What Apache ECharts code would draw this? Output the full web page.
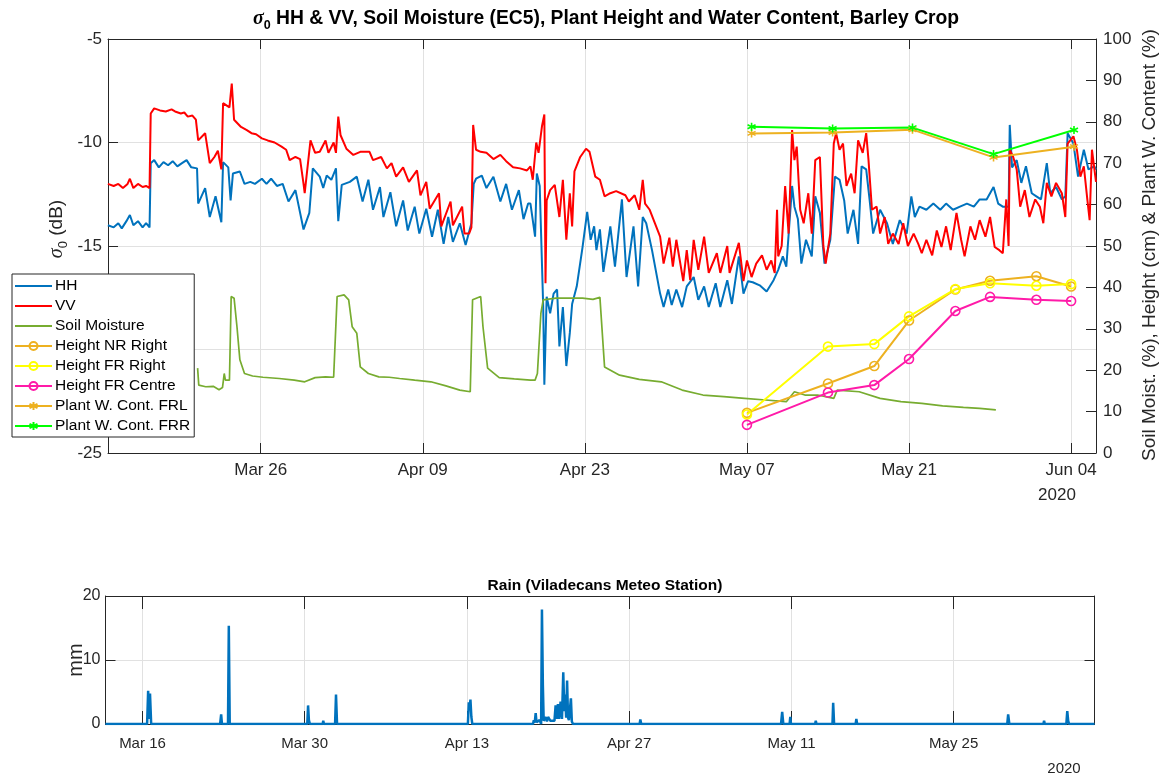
<!DOCTYPE html>
<html><head><meta charset="utf-8">
<script src="https://cdn.jsdelivr.net/npm/echarts@6/dist/echarts.min.js"></script>
<style>html,body{margin:0;padding:0;background:#fff}#c{width:1166px;height:779px}</style>
</head><body><div id="c"></div>
<script>
// x values are days since 13 Mar 2020 00:00
const X_MIN = -0.19, X_MAX = 85.15;
const topTickDays = [13, 27, 41, 55, 69, 83];
const topTickLabels = ['Mar 26', 'Apr 09', 'Apr 23', 'May 07', 'May 21', 'Jun 04'];
const rainTickDays = [3, 17, 31, 45, 59, 73];
const rainTickLabels = ['Mar 16', 'Mar 30', 'Apr 13', 'Apr 27', 'May 11', 'May 25'];
const yearLabel = '2020';

const HH = [
[-0.2,-14.0],[0.3,-14.1],[0.7,-13.9],[1.0,-14.15],[1.4,-13.8],[1.7,-13.5],[2.0,-14.0],[2.4,-13.8],[2.8,-14.1],[3.1,-13.9],[3.4,-14.1],
[3.5,-11.0],[3.8,-10.85],[4.2,-11.2],[4.6,-10.95],[5.0,-11.1],[5.4,-10.9],[5.8,-11.15],[6.2,-11.0],[6.6,-10.85],[7.0,-11.2],[7.5,-11.25],
[7.6,-12.95],[8.2,-12.2],[8.6,-13.6],[9.1,-12.6],[9.6,-13.85],[9.75,-10.95],[10.2,-11.2],[10.4,-12.8],[10.6,-11.5],[11.2,-11.4],[11.6,-12.0],
[12.1,-11.9],[12.5,-12.0],[13.1,-11.75],[13.5,-12.0],[13.9,-11.75],[14.4,-12.1],[14.9,-12.0],[15.4,-12.85],[16.0,-12.3],[16.7,-14.2],[17.2,-13.4],
[17.5,-11.25],[18.1,-11.65],[18.4,-12.2],[18.7,-11.6],[19.1,-11.8],[19.5,-11.25],[19.7,-13.8],[20.0,-12.05],[20.7,-11.9],[21.3,-11.65],[21.8,-12.85],
[22.3,-11.8],[22.7,-13.25],[23.3,-12.15],[23.6,-13.6],[24.2,-12.4],[24.7,-14.05],[25.3,-12.8],[25.7,-14.25],[26.3,-13.1],[26.7,-14.4],[27.3,-13.2],
[27.8,-14.55],[28.3,-13.25],[28.8,-14.9],[29.2,-13.6],[29.6,-14.8],[30.2,-13.9],[30.7,-14.95],[31.2,-13.9],[31.4,-12.0],[31.6,-11.75],[32.1,-11.6],
[32.5,-12.2],[33.1,-11.65],[33.7,-12.85],[34.2,-12.0],[34.7,-13.25],[35.3,-12.3],[35.7,-13.7],[36.1,-12.95],[36.3,-12.95],[36.7,-14.55],[36.85,-11.5],
[37.1,-12.1],[37.4,-17.9],[37.5,-21.7],[37.7,-17.45],[38.0,-18.25],[38.3,-17.3],[38.6,-17.1],[38.8,-19.85],[39.1,-17.95],[39.4,-20.8],[39.7,-19.2],
[39.9,-17.8],[40.3,-16.95],[40.8,-15.05],[41.2,-13.35],[41.5,-14.7],[41.8,-14.05],[42.0,-15.2],[42.3,-14.2],[42.6,-16.25],[43.2,-14.05],[43.6,-16.0],
[44.2,-12.75],[44.6,-16.5],[45.2,-14.05],[45.6,-16.95],[46.0,-13.6],[46.3,-13.9],[46.8,-15.2],[47.5,-17.3],[47.8,-17.95],[48.2,-17.1],[48.5,-17.85],
[48.9,-17.1],[49.4,-17.95],[49.8,-16.95],[50.4,-16.5],[50.8,-17.6],[51.3,-16.95],[51.7,-17.95],[52.3,-16.8],[52.7,-17.95],[53.3,-16.65],[53.7,-17.8],
[54.3,-15.5],[54.7,-17.3],[55.1,-16.7],[55.5,-16.75],[56.1,-16.9],[56.7,-17.2],[57.3,-16.65],[57.7,-16.15],[58.1,-15.5],[58.4,-16.0],[58.9,-12.1],
[59.1,-13.1],[59.4,-13.7],[59.7,-15.85],[60.1,-14.7],[60.6,-15.5],[60.9,-12.6],[61.3,-13.4],[61.7,-15.85],[62.2,-14.7],[62.6,-11.65],[63.0,-11.8],
[63.4,-12.8],[63.7,-14.4],[64.2,-13.25],[64.6,-14.9],[64.9,-11.15],[65.3,-11.3],[65.6,-12.8],[65.9,-14.4],[66.5,-13.25],[67.1,-13.9],[67.6,-14.9],
[68.2,-13.75],[68.8,-14.4],[69.2,-12.6],[69.5,-13.6],[69.9,-13.1],[70.5,-13.25],[71.1,-12.95],[71.7,-13.25],[72.2,-12.95],[72.8,-13.25],[73.4,-13.1],
[74.0,-12.95],[74.6,-13.1],[75.1,-12.75],[75.7,-12.75],[76.3,-12.15],[76.7,-12.95],[77.1,-13.1],[77.6,-13.1],[77.7,-9.15],[77.9,-11.2],[78.3,-10.85],
[78.7,-11.95],[79.1,-11.15],[79.6,-12.45],[80.0,-12.6],[80.4,-12.75],[80.9,-11.0],[81.2,-12.45],[81.7,-12.15],[82.2,-12.75],[82.5,-12.6],[82.7,-9.55],
[83.2,-10.05],[83.6,-11.65],[84.1,-10.35],[84.5,-11.3],[85.0,-11.15],[85.15,-11.3]
];

const VV = [
[-0.2,-12.0],[0.3,-12.1],[0.7,-12.0],[1.1,-12.2],[1.5,-12.0],[1.7,-11.75],[2.0,-12.2],[2.4,-12.0],[2.8,-12.15],[3.1,-12.1],[3.4,-12.2],
[3.5,-8.6],[3.8,-8.35],[4.3,-8.45],[4.8,-8.5],[5.3,-8.4],[5.6,-8.5],[6.1,-8.6],[6.4,-8.55],[6.7,-8.75],[7.1,-8.7],[7.4,-8.9],
[7.6,-9.9],[8.2,-9.55],[8.6,-11.0],[9.0,-10.7],[9.3,-10.4],[9.6,-11.3],[9.75,-8.1],[10.3,-8.3],[10.5,-7.15],[10.7,-8.9],[11.3,-9.25],[11.8,-9.4],
[12.2,-9.55],[12.6,-9.6],[13.1,-9.8],[13.6,-9.9],[14.2,-10.0],[14.8,-10.2],[15.2,-10.35],[15.5,-10.85],[16.0,-10.7],[16.4,-10.8],[16.7,-12.0],
[16.8,-12.45],[17.3,-9.9],[17.7,-10.5],[18.1,-10.45],[18.6,-9.9],[18.85,-10.5],[19.3,-10.0],[19.5,-10.5],[19.7,-8.75],[19.9,-9.65],[20.4,-10.3],
[21.0,-10.6],[21.6,-10.45],[22.4,-10.45],[22.7,-10.85],[23.4,-10.7],[23.9,-11.25],[24.3,-11.0],[24.7,-11.65],[25.3,-11.2],[25.8,-11.9],[26.5,-11.35],
[26.8,-12.55],[27.3,-11.9],[27.6,-13.2],[28.4,-12.45],[28.6,-14.05],[29.4,-12.85],[29.6,-14.0],[30.4,-13.1],[30.6,-14.4],[31.0,-14.4],[31.2,-14.1],
[31.35,-9.15],[31.6,-10.35],[32.0,-10.45],[32.5,-10.5],[33.1,-10.8],[33.7,-10.6],[34.2,-10.9],[34.8,-11.2],[35.4,-11.25],[36.0,-11.35],[36.3,-11.15],
[36.5,-11.8],[36.8,-10.0],[37.0,-10.5],[37.3,-9.2],[37.5,-8.65],[37.6,-16.8],[37.7,-12.8],[38.0,-12.3],[38.4,-12.05],[38.8,-13.6],[39.1,-11.8],
[39.4,-14.7],[39.7,-12.45],[39.9,-14.05],[40.1,-11.4],[40.6,-10.7],[41.1,-10.3],[41.4,-10.45],[41.9,-11.65],[42.3,-11.8],[42.7,-12.6],[43.2,-12.45],
[43.7,-12.35],[44.5,-12.55],[44.8,-12.85],[45.3,-12.55],[45.7,-13.25],[46.0,-11.8],[46.2,-12.95],[46.6,-13.25],[47.5,-14.55],[47.8,-15.85],[48.3,-14.6],
[48.6,-16.0],[48.9,-14.7],[49.5,-16.7],[49.8,-15.2],[50.1,-16.65],[50.4,-14.7],[50.8,-16.15],[51.3,-14.55],[51.7,-16.3],[52.4,-15.35],[52.7,-16.3],
[53.3,-15.0],[53.5,-16.3],[54.3,-14.85],[54.7,-16.7],[55.0,-15.7],[55.4,-16.5],[55.8,-15.85],[56.3,-15.45],[56.7,-16.15],[57.1,-15.7],[57.4,-16.3],
[57.6,-13.25],[57.7,-15.5],[58.0,-15.0],[58.3,-12.1],[58.6,-14.4],[58.9,-9.4],[59.1,-10.85],[59.3,-10.2],[59.6,-13.25],[59.9,-13.9],[60.3,-12.45],
[60.6,-14.4],[60.9,-10.85],[61.3,-10.7],[61.6,-15.0],[61.8,-15.85],[62.2,-14.4],[62.5,-10.05],[62.7,-9.55],[63.0,-10.35],[63.3,-10.05],[63.6,-12.1],
[64.0,-11.5],[64.3,-12.45],[64.6,-9.9],[65.0,-10.5],[65.3,-9.55],[65.5,-10.85],[65.8,-13.25],[66.2,-13.1],[66.5,-14.4],[66.9,-13.6],[67.2,-14.9],
[67.6,-14.4],[68.1,-14.9],[68.5,-13.9],[68.9,-15.0],[69.4,-14.4],[69.8,-14.9],[70.1,-15.35],[70.5,-14.7],[71.0,-15.45],[71.4,-14.25],[71.8,-15.05],
[72.2,-14.05],[72.6,-15.2],[73.1,-13.4],[73.5,-14.7],[73.8,-15.5],[74.3,-14.05],[74.7,-14.7],[75.1,-13.75],[75.6,-14.55],[76.0,-13.6],[76.4,-15.05],
[76.8,-15.2],[77.1,-15.35],[77.4,-12.75],[77.6,-15.0],[77.7,-10.35],[78.0,-10.7],[78.3,-11.3],[78.6,-13.1],[79.0,-12.3],[79.4,-13.6],[79.9,-12.75],
[80.3,-13.1],[80.6,-13.9],[80.9,-11.95],[81.3,-12.6],[81.7,-11.95],[82.2,-12.45],[82.5,-13.6],[82.7,-10.05],[83.2,-9.7],[83.5,-10.35],[83.8,-11.65],
[84.1,-11.15],[84.4,-12.75],[84.6,-13.75],[84.8,-10.35],[85.15,-11.9]
];

const SOIL = [
[7.55,20.5],[7.65,16.4],[8.25,16.0],[8.9,16.1],[9.4,15.3],[9.7,15.8],[9.85,19.2],[9.95,17.6],[10.3,17.6],[10.45,37.8],[10.7,37.4],[10.95,30.5],
[11.2,22.5],[11.6,19.2],[12.3,18.6],[13.2,18.3],[14.6,18.0],[15.9,17.6],[16.8,17.2],[17.7,18.2],[18.6,18.4],[19.3,18.3],[19.6,37.8],[20.2,38.2],
[20.6,37.0],[20.9,30.5],[21.3,28.9],[21.6,20.8],[22.3,19.2],[23.2,18.4],[24.1,18.3],[25.0,18.0],[26.3,17.6],[27.7,17.2],[29.0,16.2],[30.2,15.2],
[31.1,14.8],[31.3,37.0],[32.0,37.8],[32.2,30.5],[32.6,20.5],[33.6,18.2],[34.9,17.9],[36.3,17.6],[36.7,17.6],[36.9,19.2],[37.2,33.7],[37.4,37.0],
[38.5,37.4],[40.8,37.4],[41.7,37.1],[42.3,37.6],[42.7,20.8],[44.0,18.8],[45.7,17.8],[47.6,17.2],[49.4,15.2],[51.2,14.0],[53.0,13.6],[54.8,13.2],
[56.6,12.8],[58.4,12.4],[59.1,14.8],[60.0,14.0],[61.1,14.0],[62.5,13.2],[62.8,15.2],[64.7,14.8],[66.5,13.2],[68.3,12.4],[70.1,12.0],[71.9,11.4],
[73.7,11.0],[75.1,10.8],[76.5,10.4]
];

const heightDays = [55, 62, 66, 69, 73, 76, 80, 83];
const heightNRRight = [9.7, 16.8, 21.0, 32.0, 39.5, 41.6, 42.7, 40.2];
const heightFRRight = [9.3, 25.7, 26.3, 33.0, 39.6, 41.0, 40.4, 40.8];
const heightFRCentre = [6.8, 14.6, 16.4, 22.7, 34.3, 37.7, 37.0, 36.7];

const waterDays = [55.4, 62.4, 69.3, 76.3, 83.25];
const waterFRL = [77.2, 77.4, 78.1, 71.4, 74.0];
const waterFRR = [78.8, 78.4, 78.6, 72.2, 78.0];

const RAIN = [
[-0.2,0],[3.4,0],[3.49,5.2],[3.57,0.8],[3.65,4.75],[3.75,0],[9.7,0],[9.79,1.5],[9.86,0],[10.38,0],[10.45,15.35],[10.53,0],
[17.22,0],[17.29,2.9],[17.36,0.6],[17.45,0],[18.55,0],[18.6,0.5],[18.66,0],[19.15,0],[19.2,0.3],[19.26,0],[19.62,0],[19.7,4.6],[19.79,0],
[31.08,0],[31.16,3.4],[31.23,2.5],[31.3,3.8],[31.38,1.1],[31.46,0],
[36.7,0],[36.77,0.6],[36.85,0.2],[36.93,1.7],[37.0,0.3],[37.27,0.6],[37.4,0],[37.47,17.9],[37.55,6.1],[37.62,0.5],[37.8,1.1],[37.9,0.4],
[38.0,1.1],[38.2,0.5],[38.35,0.3],[38.55,0.5],[38.65,2.9],[38.75,0.8],[38.85,3.1],[38.95,0.8],[39.08,3.5],[39.2,0.8],[39.31,8.1],[39.4,2.0],
[39.48,4.6],[39.56,1.0],[39.64,6.8],[39.72,1.0],[39.8,0.6],[39.97,4.0],[40.05,0.4],[40.15,0],
[45.9,0],[45.96,0.7],[46.04,0],[58.1,0],[58.2,1.9],[58.3,0],[58.84,0],[58.9,1.1],[58.96,0],[61.04,0],[61.1,0.5],[61.16,0],
[62.54,0],[62.6,3.3],[62.68,0],[64.54,0],[64.6,0.8],[64.67,0],[77.62,0],[77.7,1.5],[77.8,0],[80.74,0],[80.8,0.5],[80.86,0],
[82.72,0],[82.8,2.0],[82.88,0.5],[82.96,0],[85.15,0]
];

const zip = (xs, ys) => xs.map((x, i) => [x, ys[i]]);
const AX = '#262626';
const GRIDC = '#E1E1E1';
const FONT = '"Liberation Sans", Arial, sans-serif';
const starPath = 'path://M5,0L5,10M0.7,2.5L9.3,7.5M0.7,7.5L9.3,2.5';

function xLabel(days, labels) {
  return v => { const i = days.indexOf(Math.round(v)); return i >= 0 ? labels[i] : ''; };
}

function xAxisDef(gridIndex, position, days, labels, showLabel, fs, margin, tickLen, split) {
  return {
    type: 'value', gridIndex, position, min: X_MIN, max: X_MAX,
    axisLine: { show: true, onZero: false, lineStyle: { color: AX, width: 1 } },
    axisTick: { show: true, inside: true, length: tickLen, customValues: days, lineStyle: { color: AX, width: 1 } },
    axisLabel: { show: showLabel, customValues: days, formatter: xLabel(days, labels), color: AX,
                 fontFamily: FONT, fontSize: fs, margin },
    splitLine: { show: split, lineStyle: { color: GRIDC, width: 1 } }
  };
}

function yAxisDef(gridIndex, position, min, max, interval, showLabel, fs, margin, split) {
  return {
    type: 'value', gridIndex, position, min, max, interval,
    axisLine: { show: true, onZero: false, lineStyle: { color: AX, width: 1 } },
    axisTick: { show: true, inside: true, length: 10, lineStyle: { color: AX, width: 1 } },
    axisLabel: { show: showLabel, color: AX, fontFamily: FONT, fontSize: fs, margin },
    splitLine: { show: split, lineStyle: { color: GRIDC, width: 1 } }
  };
}

const lineSeries = (name, data, color, width, xi, yi) => ({
  name, type: 'line', data, xAxisIndex: xi, yAxisIndex: yi, symbol: 'none',
  lineStyle: { color, width }, itemStyle: { color: 'rgba(0,0,0,0)' }, animation: false, z: 2
});

const markerSeries = (name, data, color, symbol, size) => ({
  name, type: 'line', data, xAxisIndex: 0, yAxisIndex: 1, symbol, symbolSize: size, showSymbol: true,
  lineStyle: { color, width: 2 },
  itemStyle: { color: 'rgba(255,255,255,0)', borderColor: color, borderWidth: 1.6 },
  animation: false, z: 3
});

const option = {
  animation: false,
  backgroundColor: '#ffffff',
  textStyle: { fontFamily: FONT },
  title: [
    { text: '{s|σ}{z|0}{b| HH & VV, Soil Moisture (EC5), Plant Height and Water Content, Barley Crop}',
      left: 601, top: 1, textAlign: 'center',
      textStyle: { rich: {
        s: { fontFamily: '"Liberation Serif", serif', fontStyle: 'italic', fontSize: 20, color: '#000', lineHeight: 26, verticalAlign: 'middle' },
        z: { fontFamily: FONT, fontWeight: 'bold', fontSize: 12.5, color: '#000', lineHeight: 26, verticalAlign: 'bottom' },
        b: { fontFamily: FONT, fontWeight: 'bold', fontSize: 19.3, color: '#000', lineHeight: 26, verticalAlign: 'middle' } } } },
    { text: 'Rain (Viladecans Meteo Station)', left: 600, top: 573, textAlign: 'center',
      textStyle: { fontFamily: FONT, fontWeight: 'bold', fontSize: 15.5, color: '#000' } }
  ],
  grid: [
    { left: 108, right: 70, top: 39, height: 414 },
    { left: 105.5, right: 71.5, top: 596, height: 128 }
  ],
  legend: {
    orient: 'vertical', left: 12, top: 274,
    data: ['HH', 'VV', 'Soil Moisture', 'Height NR Right', 'Height FR Right', 'Height FR Centre', 'Plant W. Cont. FRL', 'Plant W. Cont. FRR'],
    itemWidth: 37, itemHeight: 10, itemGap: 4,
    padding: [4, 4, 3, 2],
    backgroundColor: '#ffffff', borderColor: AX, borderWidth: 1, borderRadius: 0,
    textStyle: { fontFamily: FONT, fontSize: 15.5, color: '#000', padding: [0, 0, 0, -2] },
    z: 10
  },
  xAxis: [
    xAxisDef(0, 'bottom', topTickDays, topTickLabels, true, 17, 9, 10, true),
    xAxisDef(0, 'top', topTickDays, topTickLabels, false, 17, 9, 10, false),
    xAxisDef(1, 'bottom', rainTickDays, rainTickLabels, true, 15, 12, 13, true),
    xAxisDef(1, 'top', rainTickDays, rainTickLabels, false, 15, 12, 13, false)
  ],
  yAxis: [
    yAxisDef(0, 'left', -25, -5, 5, true, 17, 6, true),
    yAxisDef(0, 'right', 0, 100, 10, true, 17, 7, false),
    yAxisDef(1, 'left', 0, 20, 10, true, 16, 5, true),
    yAxisDef(1, 'right', 0, 20, 10, false, 16, 5, false)
  ],
  graphic: [
    { type: 'text', x: 57, y: 229, rotation: Math.PI / 2,
      style: { text: '{s|σ}{z|0}{b| (dB)}', align: 'center', verticalAlign: 'middle',
        rich: { s: { fontFamily: '"Liberation Serif", serif', fontStyle: 'italic', fontSize: 20, fill: AX, lineHeight: 26, verticalAlign: 'middle' },
                z: { fontFamily: FONT, fontSize: 13, fill: AX, lineHeight: 26, verticalAlign: 'bottom' },
                b: { fontFamily: FONT, fontSize: 19, fill: AX, lineHeight: 26, verticalAlign: 'middle' } } } },
    { type: 'text', x: 1149.5, y: 245, rotation: Math.PI / 2,
      style: { text: 'Soil Moist. (%), Height (cm) & Plant W. Content (%)', align: 'center', verticalAlign: 'middle',
        font: '19px "Liberation Sans", Arial, sans-serif', fill: AX } },
    { type: 'text', x: 76, y: 660, rotation: Math.PI / 2,
      style: { text: 'mm', align: 'center', verticalAlign: 'middle', font: '20px "Liberation Sans", Arial, sans-serif', fill: AX } },
    { type: 'text', x: 1057, y: 495, style: { text: yearLabel, align: 'center', verticalAlign: 'middle',
        font: '17px "Liberation Sans", Arial, sans-serif', fill: AX } },
    { type: 'text', x: 1064, y: 769, style: { text: yearLabel, align: 'center', verticalAlign: 'middle',
        font: '15px "Liberation Sans", Arial, sans-serif', fill: AX } }
  ],
  series: [
    lineSeries('HH', HH, '#0072BD', 2, 0, 0),
    lineSeries('VV', VV, '#FF0000', 2, 0, 0),
    lineSeries('Soil Moisture', SOIL, '#77AC30', 1.7, 0, 1),
    markerSeries('Height NR Right', zip(heightDays, heightNRRight), '#EDB120', 'circle', 9),
    markerSeries('Height FR Right', zip(heightDays, heightFRRight), '#FFFF00', 'circle', 9),
    markerSeries('Height FR Centre', zip(heightDays, heightFRCentre), '#FF1AA8', 'circle', 9),
    markerSeries('Plant W. Cont. FRL', zip(waterDays, waterFRL), '#EDB120', starPath, 8),
    markerSeries('Plant W. Cont. FRR', zip(waterDays, waterFRR), '#00FF00', starPath, 8),
    lineSeries('Rain', RAIN, '#0072BD', 2.5, 2, 2)
  ]
};

const chart = echarts.init(document.getElementById('c'), null, { renderer: 'canvas' });
chart.setOption(option);
</script>
</body></html>
